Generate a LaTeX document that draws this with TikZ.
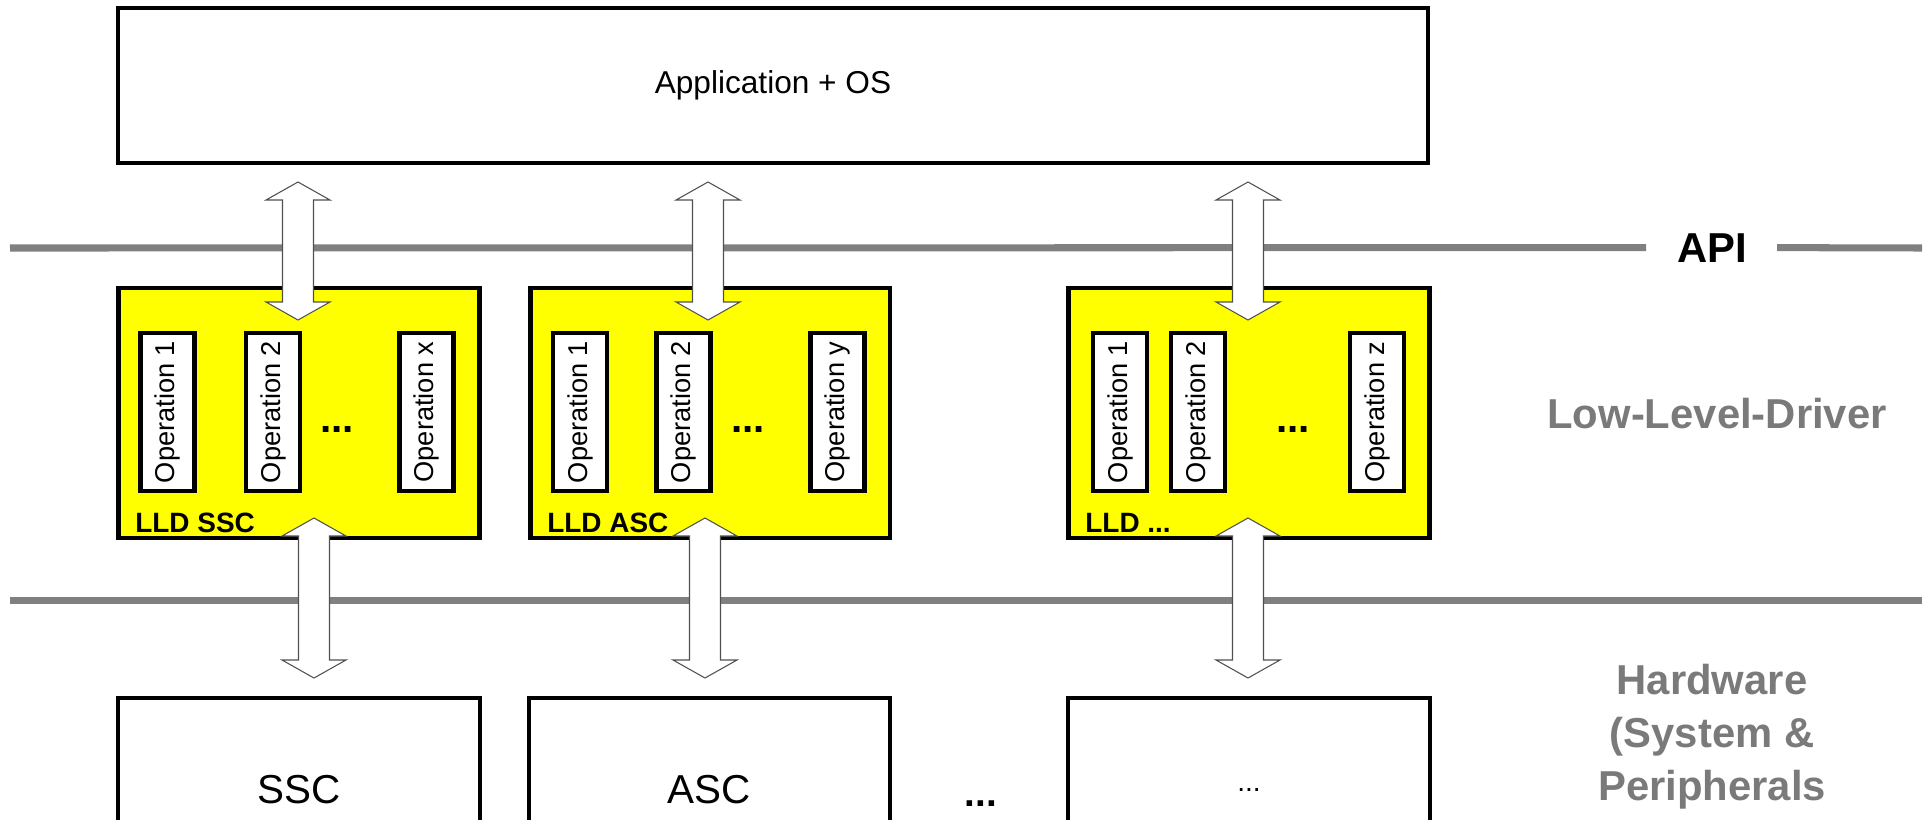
\documentclass[tikz,border=0pt]{standalone}
\usepackage{fontspec}
\setmainfont{Liberation Sans}
\usetikzlibrary{calc,positioning}
\definecolor{lldYellow}{HTML}{FFFF00}
\definecolor{busGray}{HTML}{808080}
\definecolor{labelGray}{HTML}{7A7A7A}
\definecolor{arrowGray}{HTML}{505050}

\begin{document}
\begin{tikzpicture}[
    x=0.02cm, y=-0.02cm,
    block/.style={rectangle, draw=black, line width=2pt, fill=white, inner sep=0pt},
    hwblock/.style={block, minimum width=7.24cm, minimum height=3.68cm, font=\fontsize{23}{27}\selectfont},
    driver/.style={rectangle, draw=black, line width=2.8pt, fill=lldYellow,
                   minimum width=7.22cm, minimum height=5cm, inner sep=0pt},
    oper/.style={rectangle, draw=black, line width=2.8pt, fill=white, rotate=90,
                 minimum width=3.16cm, minimum height=1.08cm, inner sep=0pt,
                 font=\fontsize{15.5}{18}\selectfont},
    tag/.style={anchor=base west, inner sep=0pt, font=\fontsize{15.9}{18}\selectfont\bfseries},
    dots/.style={anchor=base, inner sep=0pt, font=\fontsize{23}{26}\selectfont\bfseries},
    busline/.style={draw=busGray, line width=4pt},
    layerlabel/.style={inner sep=0pt, text=labelGray, align=center,
                       font=\fontsize{23.8}{30}\selectfont\bfseries},
    twoway/.style={draw=arrowGray, line width=0.6pt, fill=white,
      to path={(\tikztostart) -- ++(32,18) -- ++(-16.5,0) -- ($(\tikztotarget)+(15.5,-18)$)
        -- ++(16.5,0) -- (\tikztotarget) -- ++(-32,-18) -- ++(16.5,0)
        -- ($(\tikztostart)+(-15.5,18)$) -- ++(-16.5,0) -- cycle}}
  ]
  \useasboundingbox (0,0) rectangle (1929,819);
  \clip (0,0) rectangle (1929,819);

  % application layer
  \node[block, minimum width=26.2cm, minimum height=3.1cm, font=\fontsize{18}{21}\selectfont]
    (app) at (773,85.5) {Application + OS};

  % API and lower bus
  \node[inner sep=0pt, anchor=base, font=\fontsize{23.8}{28}\selectfont\bfseries] (api) at (1712,262) {API};
  \coordinate (apiL) at (10,248);
  \coordinate (apiR) at (1922,248);
  \draw[busline] (apiL) -- (api.west -| 1646,248);
  \draw[busline] (api.east -| 1777,248) -- (apiR);
  \coordinate (hwL) at (10,600);
  \coordinate (hwR) at (1922,600);
  \draw[busline] (hwL) -- (hwR);

  % low level drivers
  \node[driver] (lldSSC) at (299,413) {};
  \node[driver, minimum width=7.2cm] (lldASC) at (710,413) {};
  \node[driver] (lldMore) at (1249,413) {};

  \node[oper] (ssc1) at (167.5,412) {Operation 1};
  \node[oper] (ssc2) at (273,412) {Operation 2};
  \node[oper] (sscx) at (426.5,412) {Operation x};
  \node[dots] (sscdots) at (337,432) {...};
  \node[tag] (sscTag) at (135,532) {LLD SSC};

  \node[oper] (asc1) at (580,412) {Operation 1};
  \node[oper] (asc2) at (683.5,412) {Operation 2};
  \node[oper] (ascy) at (837.5,412) {Operation y};
  \node[dots] (ascdots) at (748,432) {...};
  \node[tag] (ascTag) at (547,532) {LLD ASC};

  \node[oper] (more1) at (1120,412) {Operation 1};
  \node[oper] (more2) at (1198,412) {Operation 2};
  \node[oper] (morez) at (1377,412) {Operation z};
  \node[dots] (moredots) at (1293,432) {...};
  \node[tag] (moreTag) at (1085,532) {LLD ...};

  % hardware
  \node[hwblock] (ssc) at (299,790) {SSC};
  \node[hwblock, minimum width=7.22cm] (asc) at (709.5,790) {ASC};
  \node[hwblock, font=\fontsize{16}{18}\selectfont] (hwMore) at (1249,790) {...};
  \node[dots, font=\fontsize{22}{26}\selectfont\bfseries] (hwdots) at (981,806) {...};

  % layer names
  \node[layerlabel, anchor=base east] (lldName) at (1887,428) {Low-Level-Driver};
  \node[layerlabel, anchor=north] (hwName) at (1712,664) {Hardware\\(System \&\\Peripherals};

  % two way arrows
  \coordinate (sscUpT) at (298,182);  \coordinate (sscUpB) at (298,320);
  \coordinate (ascUpT) at (708,182);  \coordinate (ascUpB) at (708,320);
  \coordinate (moreUpT) at (1248,182); \coordinate (moreUpB) at (1248,320);
  \coordinate (sscDnT) at (314,518);  \coordinate (sscDnB) at (314,678);
  \coordinate (ascDnT) at (705,518);  \coordinate (ascDnB) at (705,678);
  \coordinate (moreDnT) at (1248,518); \coordinate (moreDnB) at (1248,678);
  \foreach \col in {ssc,asc,more}{
    \draw[twoway] (\col UpT) to (\col UpB);
    \draw[twoway] (\col DnT) to (\col DnB);
  }
\end{tikzpicture}
\end{document}
